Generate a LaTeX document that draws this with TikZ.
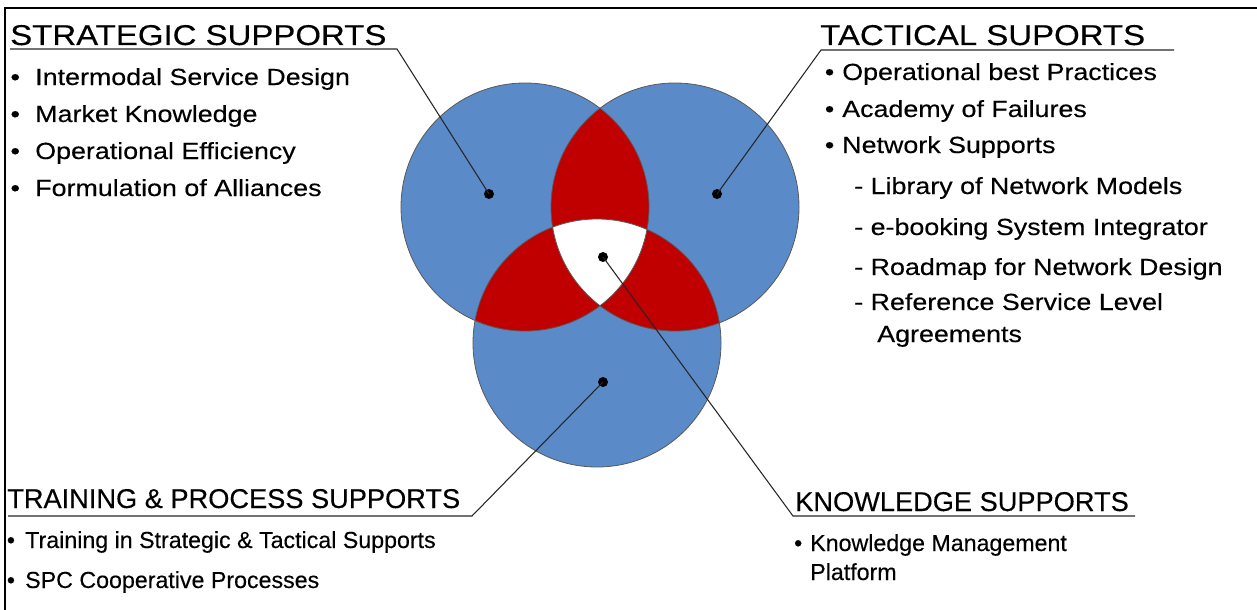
\documentclass[tikz,border=0pt]{standalone}
\usepackage{fontspec}
\setmainfont{Liberation Sans}[FakeBold=0.3]
\newfontfamily\widesans[FakeStretch=1.15,FakeBold=0.3]{Liberation Sans}
\definecolor{vennblue}{HTML}{5A8AC8}
\definecolor{vennred}{HTML}{C00000}
\newcommand\bul[1][6pt]{\llap{\textbullet\hspace{#1}}}

\begin{document}
\begin{tikzpicture}[x=0.75pt,y=-0.75pt,
  hd/.style={anchor=base west,inner sep=0pt,font=\widesans\fontsize{21.5}{24}\selectfont},
  hdb/.style={anchor=base west,inner sep=0pt,font=\fontsize{20.4}{24}\selectfont},
  itm/.style={anchor=base west,inner sep=0pt,font=\widesans\fontsize{17.5}{20}\selectfont},
  itmb/.style={anchor=base west,inner sep=0pt,font=\fontsize{17.4}{20}\selectfont},
  spot/.style={circle,fill=black,inner sep=0pt,minimum size=7.5pt},
  lead/.style={line width=0.8pt,black!85}]
\useasboundingbox (0,0) rectangle (1257,610);

% frame
\draw [line width=1.6pt] (5,610) -- (5,8) -- (1257,8);

% circles
\coordinate (L) at (525,207);
\coordinate (R) at (675,207);
\coordinate (B) at (597,343);
\fill [vennblue] (L) circle (93pt);
\fill [vennblue] (R) circle (93pt);
\fill [vennblue] (B) circle (93pt);
\begin{scope}
\clip (L) circle (93pt);
\fill [vennred] (R) circle (93pt);
\fill [vennred] (B) circle (93pt);
\end{scope}
\begin{scope}
\clip (R) circle (93pt);
\fill [vennred] (B) circle (93pt);
\end{scope}
\begin{scope}
\clip (L) circle (93pt);
\clip (R) circle (93pt);
\fill [white] (B) circle (93pt);
\end{scope}
\draw [gray!70!black, line width=0.6pt] (L) circle (93pt) (R) circle (93pt) (B) circle (93pt);

% spots
\node [spot] (sd) at (489,194) {};
\node [spot] (td) at (717,194) {};
\node [spot] (kd) at (603,257) {};
\node [spot] (pd) at (603,382) {};

% strategic
\node [hd] (s0) at (10,45) {STRATEGIC SUPPORTS};
\node [itm] (s1) at (35,85) {\bul[11.5pt]Intermodal Service Design};
\node [itm] (s2) at (35,122) {\bul[11.5pt]Market Knowledge};
\node [itm] (s3) at (35,159) {\bul[11.5pt]Operational Efficiency};
\node [itm] (s4) at (35,196) {\bul[11.5pt]Formulation of Alliances};
\coordinate (sa) at (10,49);
\coordinate (sb) at (397,49);
\draw [lead] (sa) -- (sb) -- (sd.center);

% tactical
\node [hd] (t0) at (820,45) {TACTICAL SUPORTS};
\node [itm] (t1) at (842,80) {\bul Operational best Practices};
\node [itm] (t2) at (842,117) {\bul Academy of Failures};
\node [itm] (t3) at (842,153) {\bul Network Supports};
\node [itm] (t4) at (854,194) {- Library of Network Models};
\node [itm] (t5) at (854,235) {- e-booking System Integrator};
\node [itm] (t6) at (854,275) {- Roadmap for Network Design};
\node [itm] (t7) at (854,310) {- Reference Service Level};
\node [itm] (t8) at (877,342) {Agreements};
\coordinate (ta) at (1174,50);
\coordinate (tb) at (821,50);
\draw [lead] (ta) -- (tb) -- (td.center);

% training
\node [hdb] (p0) at (7,508) {TRAINING \& PROCESS SUPPORTS};
\node [itmb] (p1) at (25,548) {\bul[7.7pt]Training in Strategic \& Tactical Supports};
\node [itmb] (p2) at (25,588) {\bul[7.7pt]SPC Cooperative Processes};
\coordinate (pa) at (8,516);
\coordinate (pb) at (472,516);
\draw [lead] (pa) -- (pb) -- (pd.center);

% knowledge
\node [hdb] (k0) at (795,511) {KNOWLEDGE SUPPORTS};
\node [itmb] (k1) at (810,551) {\bul Knowledge Management};
\node [itmb] (k2) at (810,580) {Platform};
\coordinate (ka) at (1135,516);
\coordinate (kb) at (793,516);
\draw [lead] (ka) -- (kb) -- (kd.center);
\end{tikzpicture}
\end{document}
